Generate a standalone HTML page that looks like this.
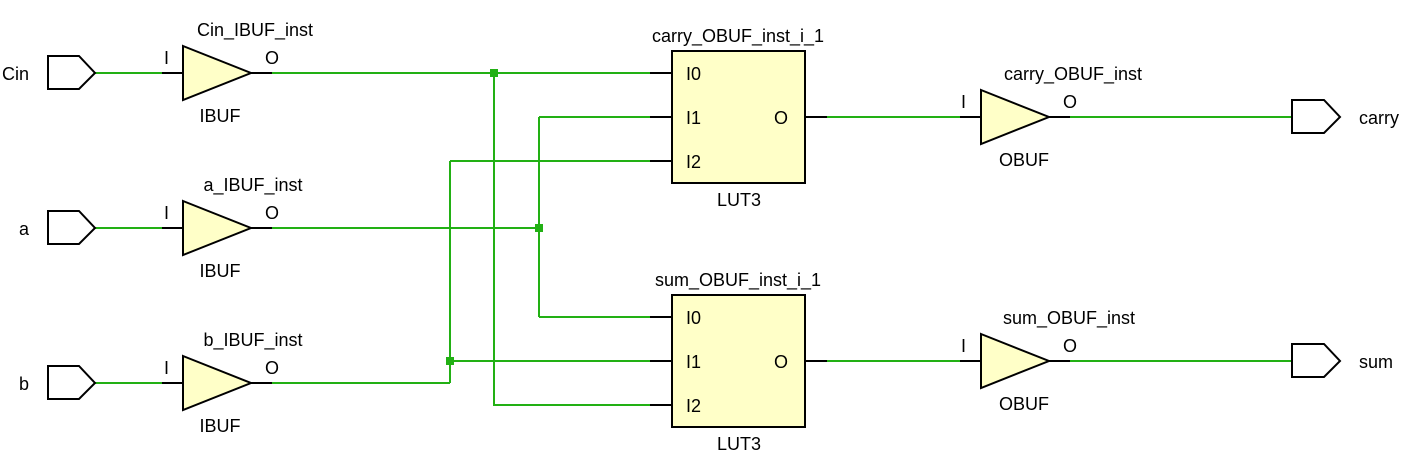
<!DOCTYPE html>
<html><head><style>body{margin:0;background:#fff}svg text{font-family:"Liberation Sans","DejaVu Sans",sans-serif;font-size:18px;fill:#000}</style></head><body>
<svg width="1412" height="459" xmlns="http://www.w3.org/2000/svg">
<g fill="none" stroke="#22b014" stroke-width="2">
<path d="M95 73H162M95 228H162M95 383H162"/>
<path d="M272 73H650M494 73V405H650"/>
<path d="M272 228H539M539 117V317M539 117H650M539 317H650"/>
<path d="M272 383H450M450 161V383M450 361H650M450 161H650"/>
<path d="M827 117H960M827 361H960M1070 117H1292M1070 361H1292"/>
</g>
<g fill="#22b014"><rect x="490" y="69" width="8" height="8"/><rect x="535" y="224" width="8" height="8"/><rect x="446" y="357" width="8" height="8"/></g>
<g stroke="#000" stroke-width="2" fill="none">
<path d="M162 73H183M251 73H272M162 228H183M251 228H272M162 383H183M251 383H272"/>
<path d="M650 73H672M650 117H672M650 161H672M805 117H827M650 317H672M650 361H672M650 405H672M805 361H827"/>
<path d="M960 117H981M1049 117H1070M960 361H981M1049 361H1070"/>
<path d="M48 56H79L95 73L79 89H48Z M48 211H79L95 228L79 244H48Z M48 366H79L95 383L79 399H48Z"/>
<path d="M1292 100H1324L1340 117L1324 133H1292Z M1292 344H1324L1340 361L1324 377H1292Z"/>
</g>
<g stroke="#000" stroke-width="2" fill="#ffffc8">
<path d="M183 46L251 73L183 100Z M183 201L251 228L183 255Z M183 356L251 383L183 410Z"/>
<path d="M981 90L1049 117L981 144Z M981 334L1049 361L981 388Z"/>
<rect x="672" y="51" width="133" height="132"/><rect x="672" y="295" width="133" height="132"/>
</g>
<text x="29" y="80" text-anchor="end">Cin</text>
<text x="29" y="235" text-anchor="end">a</text>
<text x="29" y="390" text-anchor="end">b</text>
<text x="1359" y="124">carry</text><text x="1359" y="368">sum</text>
<text x="255" y="36" text-anchor="middle">Cin_IBUF_inst</text>
<text x="253" y="191" text-anchor="middle">a_IBUF_inst</text>
<text x="253" y="346" text-anchor="middle">b_IBUF_inst</text>
<g text-anchor="middle"><text x="220" y="122">IBUF</text><text x="220" y="277">IBUF</text><text x="220" y="432">IBUF</text>
<text x="1024" y="166">OBUF</text><text x="1024" y="410">OBUF</text>
<text x="739" y="206">LUT3</text><text x="739" y="450">LUT3</text>
<text x="738" y="42">carry_OBUF_inst_i_1</text><text x="738" y="286">sum_OBUF_inst_i_1</text>
<text x="1073" y="80">carry_OBUF_inst</text><text x="1069" y="324">sum_OBUF_inst</text></g>
<text x="164" y="64">I</text><text x="265" y="64">O</text>
<text x="164" y="219">I</text><text x="265" y="219">O</text>
<text x="164" y="374">I</text><text x="265" y="374">O</text>
<text x="961" y="108">I</text><text x="1063" y="108">O</text>
<text x="961" y="352">I</text><text x="1063" y="352">O</text>
<text x="686" y="80">I0</text><text x="686" y="124">I1</text><text x="686" y="168">I2</text><text x="774" y="124">O</text>
<text x="686" y="324">I0</text><text x="686" y="368">I1</text><text x="686" y="412">I2</text><text x="774" y="368">O</text>
</svg></body></html>
